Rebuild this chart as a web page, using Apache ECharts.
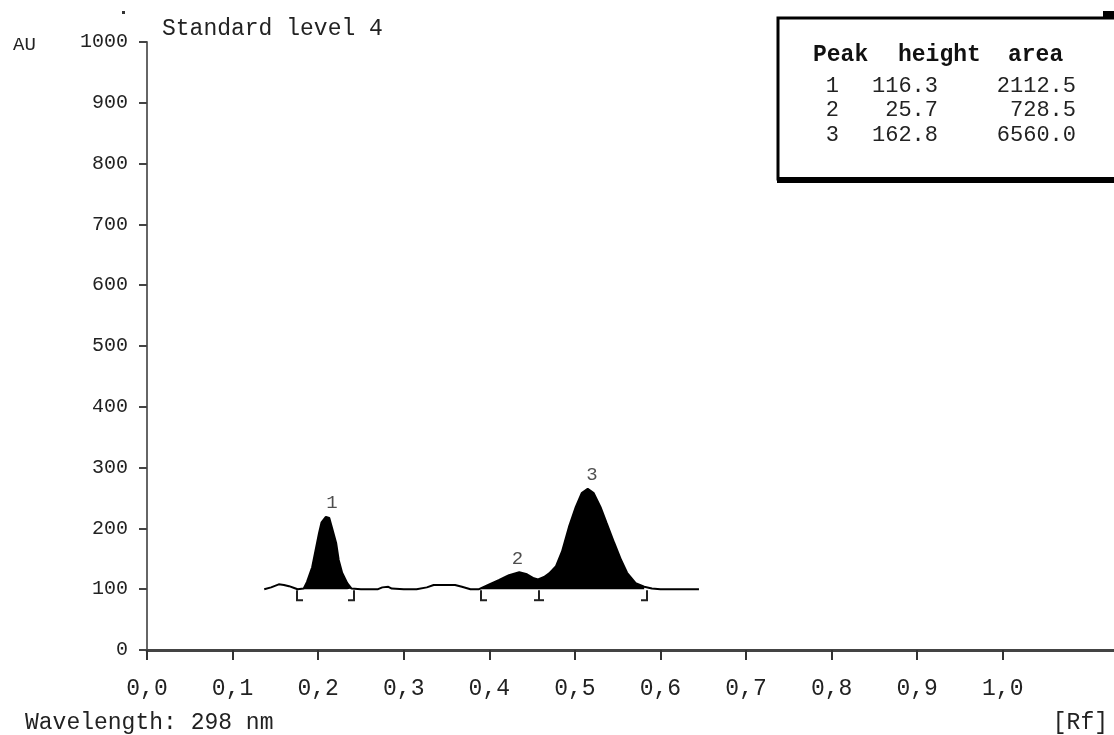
<!DOCTYPE html>
<html>
<head>
<meta charset="utf-8">
<script src="https://cdn.jsdelivr.net/npm/echarts@6/dist/echarts.min.js"></script>
<style>
html,body{margin:0;padding:0;background:#fff;}
#chart{width:1114px;height:735px;}
</style>
</head>
<body>
<div id="chart"></div>
<script>
// ---- data ----
const titleText = 'Standard level 4';
const yUnit = 'AU';
const xFooter = 'Wavelength: 298 nm';
const xUnit = '[Rf]';
const xTickValues = [0, 0.1, 0.2, 0.3, 0.4, 0.5, 0.6, 0.7, 0.8, 0.9, 1.0];
const xTickLabels = ['0,0','0,1','0,2','0,3','0,4','0,5','0,6','0,7','0,8','0,9','1,0'];
const yTickValues = [0,100,200,300,400,500,600,700,800,900,1000];
const yTickLabels = ['0','100','200','300','400','500','600','700','800','900','1000'];

const traceRf = [0.137,0.145,0.154,0.160,0.166,0.172,0.176,0.183,0.187,0.193,0.197,0.201,0.204,0.209,0.213,0.216,0.221,0.224,0.228,0.234,0.239,0.250,0.270,0.275,0.282,0.286,0.300,0.315,0.327,0.335,0.360,0.368,0.378,0.388,0.400,0.411,0.423,0.435,0.444,0.452,0.457,0.464,0.470,0.478,0.485,0.493,0.501,0.508,0.515,0.522,0.530,0.537,0.546,0.554,0.561,0.571,0.581,0.590,0.600,0.620,0.645];
const traceAU = [100,103,108,107,105,102,100,101,112,136,164,192,210,219,217,202,176,148,127,110,101,100,100,103,104,101,100,100,103,107,107,104,100,100,108,115,123,128,124.5,118,116,120,126,138,162,202,235,258,265,258,235,209,176,148,127,110,104,101,100,100,100];

const peakBaseline = 100;
const peakStartRf = [0.183, 0.388];
const peakEndRf = [0.239, 0.583];

const peakNames = ['1','2','3'];
const peakApexRf = [0.216, 0.433, 0.520];
const peakApexAU = [219, 128, 265];

const bracketRf = [0.175, 0.242, 0.390, 0.458, 0.584];
const bracketKind = ['L','R','L','T','R'];

const tableHeader = ['Peak','height','area'];
const tablePeak = ['1','2','3'];
const tableHeight = ['116.3','25.7','162.8'];
const tableArea = ['2112.5','728.5','6560.0'];

// ---- build ----
const FONT = '"Liberation Mono", "DejaVu Sans Mono", monospace';
const TXT = '#222';

const traceData = traceRf.map((x, i) => [x, traceAU[i]]);
const fillData = traceRf.map((x, i) => {
  let inPeak = false;
  for (let k = 0; k < peakStartRf.length; k++) {
    if (x >= peakStartRf[k] && x <= peakEndRf[k]) inPeak = true;
  }
  return inPeak ? [x, traceAU[i]] : [x, null];
});
const apexData = peakApexRf.map((x, i) => ({value: [x, peakApexAU[i]], label: {formatter: peakNames[i]}}));
const bracketData = bracketRf.map((x, i) => [x, peakBaseline, i]);

const chart = echarts.init(document.getElementById('chart'), null, {renderer: 'canvas'});

const graphics = [];
graphics.push({type:'text', left: 13, top: 35, style:{text: yUnit, font: '19px ' + FONT, fill: TXT}});
graphics.push({type:'text', left: 162, top: 17, style:{text: titleText, font: '23px ' + FONT, fill: TXT}});
graphics.push({type:'rect', shape:{x:122, y:11, width:3, height:3}, style:{fill:'#333'}});
graphics.push({type:'text', left: 25, top: 711, style:{text: xFooter, font: '23px ' + FONT, fill: TXT}});
graphics.push({type:'text', right: 6, top: 711, style:{text: xUnit, font: '23px ' + FONT, fill: TXT}});
// table box
graphics.push({type:'rect', shape:{x:778, y:18, width:345, height:161}, style:{fill:'#fff', stroke:'#000', lineWidth:3}, z: 10});
graphics.push({type:'rect', shape:{x:777, y:177, width:345, height:6}, style:{fill:'#000'}, z: 11});
graphics.push({type:'rect', shape:{x:1103, y:11, width:12, height:7}, style:{fill:'#000'}, z: 11});
const headerX = [813, 898, 1008];
tableHeader.forEach((h, i) => {
  graphics.push({type:'text', x: headerX[i], y: 55, style:{text: h, font: 'bold 23px ' + FONT, fill: '#111', textVerticalAlign:'middle'}, z: 12});
});
const rowY = [86, 110, 135];
tableHeight.forEach((h, i) => {
  graphics.push({type:'text', x: 839, y: rowY[i], style:{text: tablePeak[i], font: '22px ' + FONT, fill: TXT, textAlign:'right', textVerticalAlign:'middle'}, z: 12});
  graphics.push({type:'text', x: 938, y: rowY[i], style:{text: h, font: '22px ' + FONT, fill: TXT, textAlign:'right', textVerticalAlign:'middle'}, z: 12});
  graphics.push({type:'text', x: 1076, y: rowY[i], style:{text: tableArea[i], font: '22px ' + FONT, fill: TXT, textAlign:'right', textVerticalAlign:'middle'}, z: 12});
});

const option = {
  backgroundColor: '#fff',
  animation: false,
  grid: {left: 147, right: 0, top: 42, bottom: 85, containLabel: false},
  xAxis: {
    type: 'value', min: 0, max: 1.13,
    axisLine: {show: true, onZero: false, lineStyle: {color: '#444', width: 3}},
    axisTick: {show: true, length: 10, customValues: xTickValues, lineStyle: {color: '#333', width: 2}},
    axisLabel: {customValues: xTickValues, formatter: (v) => {
      const idx = xTickValues.findIndex(t => Math.abs(t - v) < 1e-6);
      return idx >= 0 ? xTickLabels[idx] : '';
    }, margin: 27, color: TXT, fontFamily: 'Liberation Mono', fontSize: 23},
    splitLine: {show: false}
  },
  yAxis: {
    type: 'value', min: 0, max: 1000, interval: 100,
    axisLine: {show: true, lineStyle: {color: '#666', width: 2}},
    axisTick: {show: true, length: 8, lineStyle: {color: '#444', width: 2}},
    axisLabel: {margin: 19, color: TXT, fontFamily: 'Liberation Mono', fontSize: 20, formatter: (v) => {
      const idx = yTickValues.findIndex(t => Math.abs(t - v) < 1e-6);
      return idx >= 0 ? yTickLabels[idx] : '';
    }},
    splitLine: {show: false}
  },
  series: [
    {
      type: 'line', name: 'fill', data: fillData, symbol: 'none', connectNulls: false,
      lineStyle: {width: 0}, areaStyle: {color: '#000', opacity: 1, origin: peakBaseline}, z: 2
    },
    {
      type: 'line', name: 'trace', data: traceData, symbol: 'none',
      lineStyle: {color: '#000', width: 2}, z: 3
    },
    {
      type: 'scatter', name: 'peaks', data: apexData, symbolSize: 0,
      label: {show: true, position: 'top', distance: 4, color: '#222', fontFamily: 'Liberation Mono', fontSize: 19}, z: 4
    },
    {
      type: 'custom', name: 'brackets', data: bracketData,
      renderItem: function (params, api) {
        const p = api.coord([api.value(0), api.value(1)]);
        const kind = bracketKind[api.value(2)];
        const x = Math.round(p[0]), y0 = p[1] + 1, y1 = p[1] + 11;
        let pts;
        if (kind === 'L') pts = [[x, y0], [x, y1], [x + 6, y1]];
        else if (kind === 'R') pts = [[x, y0], [x, y1], [x - 6, y1]];
        else pts = null;
        if (pts) {
          return {type: 'polyline', shape: {points: pts}, style: {stroke: '#222', lineWidth: 2, fill: null}};
        }
        return {type: 'group', children: [
          {type: 'line', shape: {x1: x, y1: y0, x2: x, y2: y1}, style: {stroke: '#222', lineWidth: 2}},
          {type: 'line', shape: {x1: x - 5, y1: y1, x2: x + 5, y2: y1}, style: {stroke: '#222', lineWidth: 2}}
        ]};
      }, z: 4
    }
  ],
  graphic: graphics
};
chart.setOption(option);
</script>
</body>
</html>
